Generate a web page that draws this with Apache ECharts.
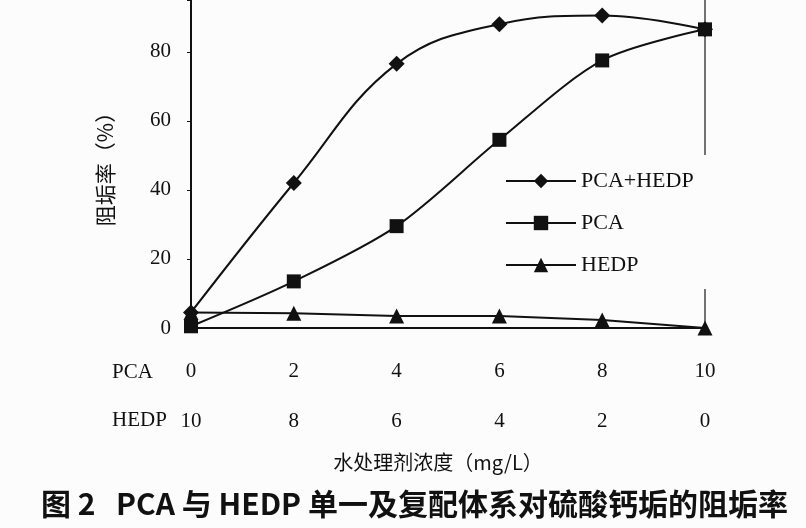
<!DOCTYPE html>
<html>
<head>
<meta charset="utf-8">
<script src="https://cdn.jsdelivr.net/npm/echarts@6/dist/echarts.min.js"></script>
<style>
  html, body { margin: 0; padding: 0; background: #fcfcfc; }
  #chart { width: 806px; height: 528px; }
</style>
</head>
<body>
<div id="chart"></div>
<script>
// x positions (PCA dose), second label row is the HEDP dose
const pcaTicks = [0, 2, 4, 6, 8, 10];
const hedpTicks = [10, 8, 6, 4, 2, 0];

// inhibition rate (%)
const mixRate = [4.5, 42, 76.5, 88, 90.5, 86.5];
const pcaRate = [0.5, 13.5, 29.5, 54.5, 77.5, 86.5];
const hedpRate = [4.5, 4.3, 3.5, 3.5, 2.3, 0];

const serif = "Liberation Serif";
const cjk = "Noto Sans CJK SC";

const zip = (ys) => pcaTicks.map((x, i) => [x, ys[i]]);

const chart = echarts.init(document.getElementById("chart"));

chart.setOption({
  backgroundColor: "#fcfcfc",
  animation: false,
  title: {
    text: "图 2   PCA 与 HEDP 单一及复配体系对硫酸钙垢的阻垢率",
    left: 36,
    top: 484,
    textStyle: { fontFamily: cjk, fontSize: 30, fontWeight: "bold", color: "#111" },
  },
  grid: { left: 191, right: 101, top: 0, bottom: 200 },
  legend: {
    orient: "vertical",
    left: 505,
    top: 155,
    padding: [15, 24, 13, 0],
    itemGap: 20,
    itemWidth: 70,
    itemHeight: 18,
    backgroundColor: "#fcfcfc",
    textStyle: { fontFamily: serif, fontSize: 22, color: "#111" },
    data: ["PCA+HEDP", "PCA", "HEDP"],
  },
  xAxis: [
    {
      type: "value",
      min: 0,
      max: 10,
      interval: 2,
      axisLine: { lineStyle: { color: "#111", width: 2 } },
      axisTick: { show: false },
      splitLine: { show: false },
      axisLabel: {
        margin: 33,
        fontFamily: serif,
        fontSize: 21,
        color: "#111",
        formatter: (v) => String(v),
      },
    },
    {
      type: "value",
      position: "bottom",
      offset: 50,
      min: 0,
      max: 10,
      interval: 2,
      axisLine: { show: false },
      axisTick: { show: false },
      splitLine: { show: false },
      axisLabel: {
        margin: 33,
        fontFamily: serif,
        fontSize: 21,
        color: "#111",
        formatter: (v) => String(hedpTicks[pcaTicks.indexOf(v)]),
      },
      name: "水处理剂浓度（mg/L）",
      nameLocation: "middle",
      nameGap: 74,
      nameTextStyle: { fontFamily: cjk, fontSize: 20, color: "#111", padding: [0, 20, 0, 0] },
    },
  ],
  yAxis: [
    {
      type: "value",
      min: 0,
      max: 95,
      interval: 20,
      axisLine: { show: true, lineStyle: { color: "#111", width: 2 } },
      axisTick: { show: true, length: 4, lineStyle: { color: "#111" } },
      splitLine: { show: false },
      axisLabel: {
        margin: 20,
        fontFamily: serif,
        fontSize: 21,
        color: "#111",
        formatter: (v) => (v % 20 === 0 ? String(v) : ""),
      },
      name: "阻垢率（%）",
      nameLocation: "middle",
      nameRotate: 90,
      nameGap: 75,
      nameTextStyle: { fontFamily: cjk, fontSize: 21, color: "#111" },
    },
    {
      type: "value",
      position: "right",
      min: 0,
      max: 95,
      axisLine: { show: true, onZero: false, lineStyle: { color: "#444", width: 1.5 } },
      axisTick: { show: false },
      axisLabel: { show: false },
      splitLine: { show: false },
    },
  ],
  graphic: [
    {
      type: "text",
      left: 112,
      top: 362,
      style: { text: "PCA", fontFamily: serif, fontSize: 21, fill: "#111" },
    },
    {
      type: "text",
      left: 112,
      top: 410,
      style: { text: "HEDP", fontFamily: serif, fontSize: 21, fill: "#111" },
    },
  ],
  series: [
    {
      name: "PCA+HEDP",
      type: "line",
      data: zip(mixRate),
      smooth: 0.4,
      clip: false,
      symbol: "diamond",
      symbolSize: 16,
      itemStyle: { color: "#111" },
      lineStyle: { color: "#111", width: 2 },
      z: 4,
    },
    {
      name: "PCA",
      type: "line",
      data: zip(pcaRate),
      smooth: 0.3,
      clip: false,
      symbol: "rect",
      symbolSize: 14,
      itemStyle: { color: "#111" },
      lineStyle: { color: "#111", width: 2 },
      z: 3,
    },
    {
      name: "HEDP",
      type: "line",
      data: zip(hedpRate),
      clip: false,
      symbol: "triangle",
      symbolSize: 15,
      itemStyle: { color: "#111" },
      lineStyle: { color: "#111", width: 2 },
      z: 3,
    },
  ],
});
</script>
</body>
</html>
